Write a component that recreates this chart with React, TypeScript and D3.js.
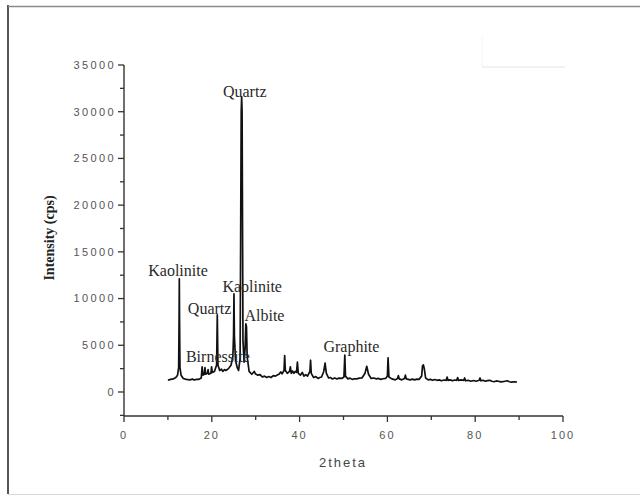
import React from "react";
import * as d3 from "d3";

const W = 640;
const H = 496;

const twoTheta = [
  10.0, 10.6, 11.2, 11.8, 12.2, 12.45, 12.55, 12.6, 12.65, 12.75, 13.0, 13.5, 14.2, 15.0, 15.6, 16.0, 16.5, 17.0, 17.6, 17.8,
  18.0, 18.3, 18.45, 18.6, 19.0, 19.15, 19.3, 19.8, 19.95, 20.1, 20.6, 21.1, 21.25, 21.4, 21.8, 22.2, 22.5, 22.9, 23.2, 23.8,
  24.4, 24.8, 24.95, 25.05, 25.15, 25.4, 25.8, 26.1, 26.45, 26.7, 26.8, 26.9, 27.1, 27.35, 27.6, 27.75, 27.9, 28.05, 28.5, 29.1,
  29.7, 29.9, 30.5, 31.0, 31.5, 32.0, 32.5, 33.0, 33.5, 34.0, 34.5, 35.0, 35.3, 35.7, 36.0, 36.45, 36.6, 36.75, 37.2, 37.7,
  37.9, 38.1, 38.4, 38.7, 39.0, 39.3, 39.5, 39.7, 40.2, 40.6, 41.0, 41.4, 41.8, 42.35, 42.5, 42.65, 43.2, 43.7, 44.2, 44.6,
  45.0, 45.5, 45.8, 46.1, 46.6, 47.0, 47.5, 48.0, 48.5, 49.0, 49.6, 50.1, 50.3, 50.45, 51.0, 51.5, 52.0, 52.5, 53.0, 53.6,
  54.2, 54.9, 55.3, 55.7, 56.3, 56.9, 57.5, 58.0, 58.5, 59.0, 59.6, 60.0, 60.15, 60.35, 61.0, 61.8, 62.3, 62.5, 62.7, 63.3,
  63.9, 64.1, 64.3, 65.2, 65.7, 66.2, 66.7, 67.2, 67.8, 68.0, 68.2, 68.4, 68.7, 69.3, 69.8, 70.3, 70.8, 71.3, 71.8, 72.3,
  72.9, 73.4, 73.6, 73.8, 74.3, 74.8, 75.3, 75.8, 76.0, 76.2, 76.8, 77.4, 77.6, 77.8, 78.4, 79.0, 79.6, 80.2, 80.9, 81.1,
  81.3, 81.8, 82.3, 82.8, 83.3, 83.8, 84.3, 84.8, 85.3, 85.8, 86.3, 86.8, 87.3, 87.8, 88.3, 88.9, 89.5,
];

const intensity = [
  1250, 1350, 1400, 1550, 1800, 2600, 7900, 12100, 7800, 2600, 1800, 1450, 1350, 1300, 1380, 1280, 1350, 1350, 1500, 2700,
  1800, 1900, 2600, 1900, 2000, 2400, 1900, 2000, 2700, 2100, 2200, 2900, 8250, 2900, 2300, 2450, 2200, 2400, 2300, 2500,
  2900, 3800, 6000, 10500, 6000, 3400, 2600, 2300, 3600, 30000, 31600, 30000, 5500, 3200, 4800, 7300, 7000, 3800, 2200, 1900,
  2200, 1950, 1800, 1850, 1600, 1700, 1550, 1650, 1550, 1750, 1700, 1850, 1900, 2150, 1950, 2300, 3900, 2300, 2000, 2200,
  2700, 2000, 2250, 2000, 2200, 2100, 3200, 2000, 1800, 2100, 1700, 1850, 1700, 2200, 3400, 2000, 1550, 1650, 1450, 1550,
  1600, 2200, 3100, 2000, 1500, 1550, 1400, 1500, 1400, 1480, 1450, 1600, 3950, 1700, 1400, 1480, 1350, 1420, 1400, 1480,
  1500, 2000, 2750, 1900, 1450, 1500, 1400, 1450, 1350, 1420, 1450, 1700, 3650, 1600, 1400, 1300, 1450, 1750, 1400, 1300,
  1450, 1800, 1400, 1300, 1380, 1300, 1380, 1350, 1700, 2800, 2900, 2500, 1500, 1300, 1350, 1250, 1330, 1250, 1300, 1200,
  1280, 1250, 1600, 1250, 1300, 1200, 1280, 1250, 1550, 1250, 1300, 1250, 1500, 1200, 1250, 1150, 1230, 1150, 1250, 1500,
  1200, 1250, 1150, 1220, 1250, 1150, 1100, 1180, 1150, 1080, 1100, 1150, 1200, 1100, 1050, 1100, 1050,
];

const xMajorTicks = [0, 20, 40, 60, 80, 100];
const xMinorTicks = [10, 30, 50, 70, 90];
const yMajorTicks = [0, 5000, 10000, 15000, 20000, 25000, 30000, 35000];
const yMinorTicks = [-2500, 2500, 7500, 12500, 17500, 22500, 27500, 32500];

const labelTexts = ["Quartz", "Kaolinite", "Quartz", "Kaolinite", "Albite", "Birnessite", "Graphite"];
const labelTheta = [27.5, 12.3, 19.5, 29.2, 32.0, 21.4, 51.8];
const labelIntensity = [31600, 12400, 8400, 10700, 7650, 3220, 4300];

export default function App() {
  const x = d3.scaleLinear().domain([0, 100]).range([124, 563]);
  const y = d3.scaleLinear().domain([-2570, 35000]).range([416, 65]);

  const pts: [number, number][] = twoTheta.map((t, i) => [t, intensity[i]]);
  const line = d3
    .line<[number, number]>()
    .x((d) => x(d[0]))
    .y((d) => y(d[1]));

  const tickFont = "Arial, 'Liberation Sans', sans-serif";
  const serif = "'Times New Roman', 'Liberation Serif', serif";

  return (
    <svg width={W} height={H} style={{ position: "absolute", left: 0, top: 0, background: "#fff" }}>
      <rect x={0} y={0} width={W} height={H} fill="#fff" />
      {/* outer frame */}
      <line x1={8} y1={5} x2={8} y2={494} stroke="#555" strokeWidth={2} />
      <line x1={8} y1={6.5} x2={640} y2={6.5} stroke="#8a8a8a" strokeWidth={1.5} />
      <line x1={8} y1={494.5} x2={640} y2={494.5} stroke="#d8d8d8" strokeWidth={1} />
      {/* faint ghost legend box */}
      <line x1={482} y1={67} x2={565} y2={67} stroke="#ececec" strokeWidth={1.5} />
      <line x1={482} y1={36} x2={482} y2={67} stroke="#f4f4f4" strokeWidth={1} />

      {/* axes */}
      <line x1={x(0)} y1={y(-2570)} x2={x(100)} y2={y(-2570)} stroke="#333" strokeWidth={1.4} />
      <line x1={x(0)} y1={y(-2570)} x2={x(0)} y2={y(35000)} stroke="#333" strokeWidth={1.4} />
      {xMajorTicks.map((t) => (
        <g key={"xM" + t}>
          <line x1={x(t)} x2={x(t)} y1={416} y2={422} stroke="#333" strokeWidth={1.3} />
          <text
            x={x(t)}
            y={439}
            textAnchor="middle"
            fontFamily={tickFont}
            fontSize={11}
            letterSpacing={2}
            fill="#555"
          >
            {t}
          </text>
        </g>
      ))}
      {xMinorTicks.map((t) => (
        <line key={"xm" + t} x1={x(t)} x2={x(t)} y1={416} y2={420} stroke="#333" strokeWidth={1.3} />
      ))}
      {yMajorTicks.map((t) => (
        <g key={"yM" + t}>
          <line x1={118} x2={124} y1={y(t)} y2={y(t)} stroke="#333" strokeWidth={1.3} />
          <text
            x={116}
            y={y(t) + 3.8}
            textAnchor="end"
            fontFamily={tickFont}
            fontSize={11}
            letterSpacing={2.4}
            fill="#555"
          >
            {t}
          </text>
        </g>
      ))}
      {yMinorTicks.map((t) => (
        <line key={"ym" + t} x1={120} x2={124} y1={y(t)} y2={y(t)} stroke="#333" strokeWidth={1.3} />
      ))}

      {/* axis titles */}
      <text x={343} y={467} textAnchor="middle" fontFamily={tickFont} fontSize={13} letterSpacing={2} fill="#444">
        2theta
      </text>
      <text
        transform="translate(54,238) rotate(-90)"
        textAnchor="middle"
        fontFamily={serif}
        fontWeight="bold"
        fontSize={14}
        fill="#222"
      >
        Intensity (cps)
      </text>

      {/* pattern */}
      <path d={line(pts) || ""} fill="none" stroke="#111" strokeWidth={1.7} strokeLinejoin="round" />

      {/* phase labels */}
      {labelTexts.map((s, i) => (
        <text
          key={"l" + i}
          x={x(labelTheta[i])}
          y={y(labelIntensity[i])}
          textAnchor="middle"
          fontFamily={serif}
          fontSize={16}
          fill="#2a2a2a"
        >
          {s}
        </text>
      ))}
    </svg>
  );
}
